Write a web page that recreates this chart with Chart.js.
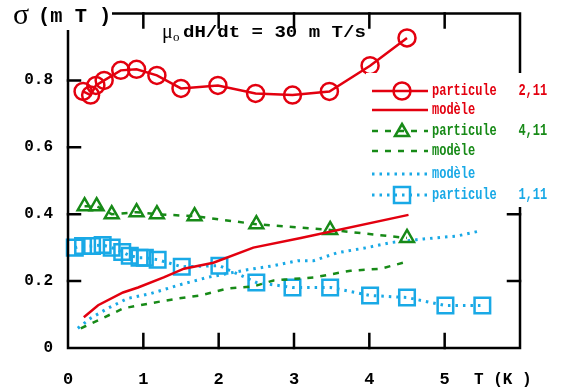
<!DOCTYPE html>
<html>
<head>
<meta charset="utf-8">
<script src="https://cdn.jsdelivr.net/npm/chart.js@4/dist/chart.umd.min.js"></script>
<style>
  html, body { margin: 0; padding: 0; background: #fff; }
  #wrap { width: 563px; height: 389px; }
</style>
</head>
<body>
<div id="wrap"><canvas id="sigma_chart" width="563" height="389"></canvas></div>
<script>
// particule 2,11 (cercles) et son modèle
const redX = [0.20, 0.30, 0.37, 0.48, 0.70, 0.91, 1.18, 1.50, 1.99, 2.49, 2.98, 3.47, 4.01, 4.50];
const redY = [0.767, 0.756, 0.785, 0.80, 0.83, 0.833, 0.815, 0.776, 0.785, 0.761, 0.756, 0.767, 0.844, 0.927];
const redModelX = [0.21, 0.40, 0.73, 0.93, 1.27, 1.54, 1.93, 2.46, 3.09, 4.52];
const redModelY = [0.092, 0.128, 0.166, 0.181, 0.211, 0.237, 0.255, 0.30, 0.329, 0.398];

// particule 4,11 (triangles) et son modèle
const greenX = [0.22, 0.38, 0.58, 0.91, 1.18, 1.68, 2.50, 3.48, 4.50];
const greenY = [0.424, 0.424, 0.40, 0.406, 0.40, 0.394, 0.37, 0.353, 0.329];
const greenModelX = [0.17, 0.40, 0.74, 1.10, 1.46, 1.76, 2.12, 2.46, 2.73, 3.26, 3.75, 4.15, 4.45];
const greenModelY = [0.059, 0.083, 0.119, 0.134, 0.148, 0.157, 0.178, 0.184, 0.202, 0.211, 0.231, 0.237, 0.255];

// particule 1,11 (carrés) et son modèle
const blueModelX = [0.13, 0.30, 0.53, 0.79, 1.10, 1.50, 1.85, 2.38, 2.73, 3.05, 3.26, 3.58, 3.97, 4.28, 4.72, 5.17, 5.47];
const blueModelY = [0.059, 0.089, 0.119, 0.148, 0.163, 0.19, 0.211, 0.234, 0.246, 0.261, 0.261, 0.285, 0.30, 0.315, 0.326, 0.335, 0.35];
const blueX = [0.09, 0.20, 0.32, 0.46, 0.58, 0.72, 0.82, 0.95, 1.02, 1.19, 1.51, 2.01, 2.50, 2.98, 3.48, 4.01, 4.50, 5.01, 5.50];
const blueY = [0.30, 0.305, 0.305, 0.308, 0.30, 0.287, 0.276, 0.27, 0.27, 0.264, 0.243, 0.246, 0.196, 0.181, 0.181, 0.157, 0.151, 0.127, 0.127];

const xTicks = [0, 1, 2, 3, 4, 5];
const yTicks = [0, 0.2, 0.4, 0.6, 0.8];

const RED = '#e3000f';
const GREEN = '#178a17';
const BLUE = '#19a9e6';
const MONO = "'Liberation Mono', 'DejaVu Sans Mono', monospace";

const pts = (xs, ys) => xs.map((x, i) => ({ x: x, y: ys[i] }));

// squeezed courier-like text
function narrowText(c, txt, x, y, sx) {
  c.save();
  c.translate(x, y);
  c.scale(sx, 1);
  c.fillText(txt, 0, 0);
  c.restore();
}

// cadre, graduations intérieures, titres et légende
const decor = {
  id: 'decor',
  afterDraw(chart) {
    const c = chart.ctx;
    const a = chart.chartArea;
    const sx = chart.scales.x, sy = chart.scales.y;
    c.save();
    c.strokeStyle = '#000';
    c.lineWidth = 2.5;
    c.lineCap = 'square';
    c.strokeRect(a.left, a.top, a.right - a.left, a.bottom - a.top);
    c.beginPath();
    xTicks.slice(1).forEach(v => {
      const px = sx.getPixelForValue(v);
      c.moveTo(px, a.bottom); c.lineTo(px, a.bottom - 14);
      c.moveTo(px, a.top); c.lineTo(px, a.top + 14);
    });
    yTicks.slice(1).forEach(v => {
      const py = sy.getPixelForValue(v);
      c.moveTo(a.left, py); c.lineTo(a.left + 12, py);
      c.moveTo(a.right, py); c.lineTo(a.right - 12, py);
    });
    c.stroke();

    // axis titles
    c.fillStyle = '#fff';
    c.fillRect(0, 0, 112, 30);
    c.fillStyle = '#000';
    c.textBaseline = 'middle';
    c.font = "30px 'Liberation Serif', serif";
    c.fillText('σ', 13, 16);
    c.font = 'bold 21px ' + MONO;
    narrowText(c, '(m T )', 38, 17, 0.97);
    c.font = 'bold 16px ' + MONO;
    c.fillText('T (K )', 474, 380);

    // mu0 dH/dt
    c.font = "20px 'Liberation Serif', serif";
    c.fillText('μ', 162, 33);
    c.font = "13px 'Liberation Serif', serif";
    c.fillText('o', 173, 38);
    c.font = 'bold 16px ' + MONO;
    narrowText(c, 'dH/dt = 30 m T/s', 183, 33, 1.19);

    // legend box
    c.fillStyle = '#fff';
    c.fillRect(366, 73, 192, 134);
    const rows = [
      { y: 91, color: RED, dash: [], w: 2.5, mark: 'circle', text: 'particule   2,11' },
      { y: 110, color: RED, dash: [], w: 2.5, mark: null, text: 'modèle' },
      { y: 131, color: GREEN, dash: [6, 7], w: 2.5, mark: 'triangle', text: 'particule   4,11' },
      { y: 151, color: GREEN, dash: [6, 7], w: 2.5, mark: null, text: 'modèle' },
      { y: 174, color: BLUE, dash: [2.5, 5], w: 3, mark: null, text: 'modèle' },
      { y: 195, color: BLUE, dash: [2.5, 5], w: 3, mark: 'square', text: 'particule   1,11' }
    ];
    c.font = 'bold 16px ' + MONO;
    c.lineCap = 'butt';
    rows.forEach(r => {
      c.strokeStyle = r.color;
      c.lineWidth = r.w;
      c.setLineDash(r.dash);
      c.beginPath();
      c.moveTo(372, r.y); c.lineTo(428, r.y);
      c.stroke();
      c.setLineDash([]);
      c.lineWidth = 2.5;
      c.beginPath();
      if (r.mark === 'circle') {
        c.arc(402, r.y, 8.5, 0, Math.PI * 2);
      } else if (r.mark === 'triangle') {
        c.moveTo(402, r.y - 7); c.lineTo(409, r.y + 5); c.lineTo(395, r.y + 5); c.closePath();
      } else if (r.mark === 'square') {
        c.rect(394, r.y - 8, 16, 16);
      }
      c.stroke();
      c.fillStyle = r.color;
      narrowText(c, r.text, 432, r.y, 0.75);
    });
    c.restore();
  }
};

const ctx = document.getElementById('sigma_chart').getContext('2d');

new Chart(ctx, {
  type: 'scatter',
  data: {
    datasets: [
      {
        label: 'particule 2,11',
        data: pts(redX, redY),
        showLine: true,
        borderColor: RED,
        borderWidth: 2.5,
        pointStyle: 'circle',
        pointRadius: 8.5,
        pointBorderWidth: 2.5,
        pointBackgroundColor: 'rgba(0,0,0,0)',
        pointBorderColor: RED
      },
      {
        label: 'modèle',
        data: pts(redModelX, redModelY),
        showLine: true,
        borderColor: RED,
        borderWidth: 2.5,
        pointRadius: 0
      },
      {
        label: 'particule 4,11',
        data: pts(greenX, greenY),
        showLine: true,
        borderColor: GREEN,
        borderWidth: 2.5,
        borderDash: [6, 7],
        pointStyle: 'triangle',
        pointRadius: 8,
        pointBorderWidth: 2.5,
        pointBackgroundColor: 'rgba(0,0,0,0)',
        pointBorderColor: GREEN
      },
      {
        label: 'modèle',
        data: pts(greenModelX, greenModelY),
        showLine: true,
        borderColor: GREEN,
        borderWidth: 2.5,
        borderDash: [6, 7],
        pointRadius: 0
      },
      {
        label: 'modèle',
        data: pts(blueModelX, blueModelY),
        showLine: true,
        borderColor: BLUE,
        borderWidth: 3,
        borderDash: [2.5, 5],
        pointRadius: 0
      },
      {
        label: 'particule 1,11',
        data: pts(blueX, blueY),
        showLine: true,
        borderColor: BLUE,
        borderWidth: 3,
        borderDash: [2.5, 5],
        pointStyle: 'rect',
        pointRadius: 11,
        pointBorderWidth: 2.5,
        pointBackgroundColor: 'rgba(0,0,0,0)',
        pointBorderColor: BLUE
      }
    ]
  },
  options: {
    responsive: false,
    animation: false,
    clip: false,
    layout: { padding: { top: 8, right: 43, left: 0, bottom: 0 } },
    plugins: {
      legend: { display: false },
      tooltip: { enabled: false }
    },
    scales: {
      x: {
        type: 'linear',
        min: 0,
        max: 6,
        afterFit: s => { s.height = 41; s.paddingLeft = 0; s.paddingRight = 0; },
        afterBuildTicks: s => { s.ticks = xTicks.map(v => ({ value: v })); },
        grid: { display: false, drawTicks: false },
        border: { display: false },
        ticks: {
          padding: 22,
          color: '#000',
          font: { family: MONO, size: 17, weight: 'bold' },
          callback: v => String(v)
        }
      },
      y: {
        type: 'linear',
        min: 0,
        max: 1,
        afterFit: s => { s.width = 68; s.paddingTop = 0; s.paddingBottom = 0; },
        afterBuildTicks: s => { s.ticks = yTicks.map(v => ({ value: v })); },
        grid: { display: false, drawTicks: false },
        border: { display: false },
        ticks: {
          padding: 15,
          color: '#000',
          font: { family: MONO, size: 16, weight: 'bold' },
          callback: v => v === 0 ? '0' : '0' + '.' + Math.round(v * 10)
        }
      }
    }
  },
  plugins: [decor]
});
</script>
</body>
</html>
